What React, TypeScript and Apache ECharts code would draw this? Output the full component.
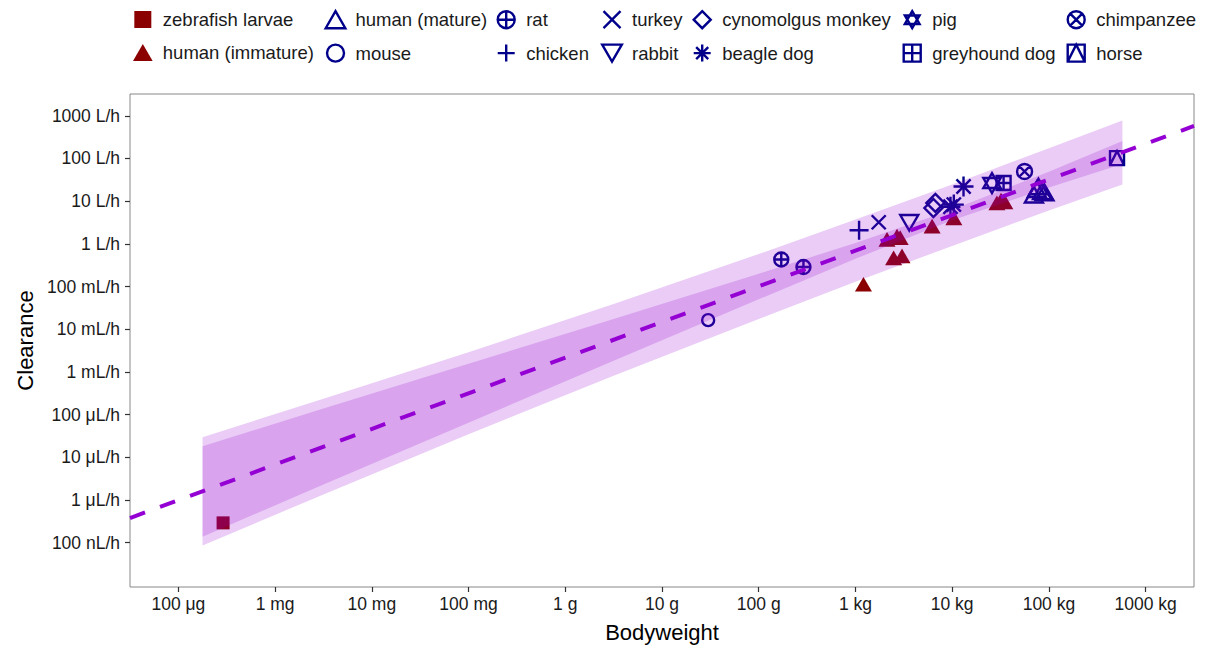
import React, { useEffect, useRef } from "react";
import * as echarts from "echarts";

// ---------- data (bodyweight in kg, clearance in L/h) ----------
const zebrafishLarvae = [[2.9e-7, 2.9e-7]];
const humanImmature = [
  [1.21, 0.113], [2.48, 0.47], [3.03, 0.52], [2.12, 1.27], [2.69, 1.51], [2.9, 1.39],
  [6.2, 2.59], [10.4, 4.06], [29, 9.1], [32, 10.5], [35, 9.6],
];
const humanMature = [[78, 22], [70, 14.2], [85, 17], [75, 19], [90, 16]];
const mouse = [[0.03, 0.0163]];
const rat = [[0.171, 0.43], [0.29, 0.286]];
const chicken = [[1.09, 2.08]];
const turkey = [[1.74, 3.2]];
const rabbit = [[3.6, 3.1]];
const cynomolgusMonkey = [[6.7, 9.1], [6.4, 6.9]];
const beagleDog = [[13.1, 22], [10.4, 8.3], [9.6, 7.4]];
const pig = [[25.8, 26.5]];
const greyhoundDog = [[34, 26.5]];
const chimpanzee = [[56, 49.6]];
const horse = [[506, 101.6]];

// fitted line and intervals, in log10 units (log10 kg, log10 L/h)
const fitLogBodyweight = [-7.5, 3.5];
const fitLogClearance = [-6.424, 2.761];
const bandLogBodyweight = [-6.75, -5.5, -4, -2.5, -1, 0, 1, 2, 2.76];
const predLower = [-7.07, -5.87, -4.46, -3.09, -1.76, -0.89, -0.05, 0.78, 1.39];
const predUpper = [-4.53, -3.63, -2.54, -1.41, -0.24, 0.57, 1.39, 2.24, 2.89];
const confLower = [-6.86, -5.64, -4.19, -2.74, -1.30, -0.35, 0.55, 1.32, 1.87];
const confUpper = [-4.74, -3.86, -2.81, -1.76, -0.70, 0.02, 0.80, 1.69, 2.41];

// ticks
const xTickLog = [-7, -6, -5, -4, -3, -2, -1, 0, 1, 2, 3];
const xTickLabels = ["100 μg", "1 mg", "10 mg", "100 mg", "1 g", "10 g", "100 g", "1 kg", "10 kg", "100 kg", "1000 kg"];
const yTickLog = [-7, -6, -5, -4, -3, -2, -1, 0, 1, 2, 3];
const yTickLabels = ["100 nL/h", "1 μL/h", "10 μL/h", "100 μL/h", "1 mL/h", "10 mL/h", "100 mL/h", "1 L/h", "10 L/h", "100 L/h", "1000 L/h"];

// ---------- styles ----------
const BLUE = "#00008B";
const RED = "#8B0000";
const VIOLET = "#9400D3";
const FONT = "'Liberation Sans', Arial, Helvetica, sans-serif";

const CIRCLE = "M10 0A10 10 0 1 1 10 20A10 10 0 1 1 10 0Z";
const SYM: Record<string, string> = {
  square: "path://M0 0H20V20H0Z",
  triUp: "path://M10 0L20 17.32H0Z",
  circle: "path://" + CIRCLE,
  circlePlus: "path://" + CIRCLE + "M10 0V20M0 10H20",
  plus: "path://M10 0V20M0 10H20",
  cross: "path://M0 0L20 20M20 0L0 20",
  triDown: "path://M0 0H20L10 17.32Z",
  diamond: "path://M10 0L20 10L10 20L0 10Z",
  asterisk: "path://M10 0V20M0 10H20M2.93 2.93L17.07 17.07M17.07 2.93L2.93 17.07",
  star: "path://M10 0L18.66 15H1.34ZM10 20L1.34 5H18.66Z",
  squarePlus: "path://M0 0H20V20H0ZM10 0V20M0 10H20",
  circleCross: "path://" + CIRCLE + "M2.93 2.93L17.07 17.07M17.07 2.93L2.93 17.07",
  squareTri: "path://M0 0H20V20H0ZM0 20L10 0L20 20",
};

const groups = [
  { name: "zebrafish larvae", data: zebrafishLarvae, symbol: SYM.square, size: 13, filled: true, color: RED },
  { name: "human (immature)", data: humanImmature, symbol: SYM.triUp, size: 17, filled: true, color: RED },
  { name: "human (mature)", data: humanMature, symbol: SYM.triUp, size: 18, filled: false, color: BLUE },
  { name: "mouse", data: mouse, symbol: SYM.circle, size: 12, filled: false, color: BLUE },
  { name: "rat", data: rat, symbol: SYM.circlePlus, size: 14, filled: false, color: BLUE },
  { name: "chicken", data: chicken, symbol: SYM.plus, size: 19, filled: false, color: BLUE },
  { name: "turkey", data: turkey, symbol: SYM.cross, size: 14, filled: false, color: BLUE },
  { name: "rabbit", data: rabbit, symbol: SYM.triDown, size: 18, filled: false, color: BLUE },
  { name: "cynomolgus monkey", data: cynomolgusMonkey, symbol: SYM.diamond, size: 18, filled: false, color: BLUE },
  { name: "beagle dog", data: beagleDog, symbol: SYM.asterisk, size: 20, filled: false, color: BLUE },
  { name: "pig", data: pig, symbol: SYM.star, size: 20, filled: false, color: BLUE },
  { name: "greyhound dog", data: greyhoundDog, symbol: SYM.squarePlus, size: 14, filled: false, color: BLUE },
  { name: "chimpanzee", data: chimpanzee, symbol: SYM.circleCross, size: 15, filled: false, color: BLUE },
  { name: "horse", data: horse, symbol: SYM.squareTri, size: 14, filled: false, color: BLUE },
];

const legendColumns = [
  ["zebrafish larvae", "human (immature)"],
  ["human (mature)", "mouse"],
  ["rat", "chicken"],
  ["turkey", "rabbit"],
  ["cynomolgus monkey", "beagle dog"],
  ["pig", "greyhound dog"],
  ["chimpanzee", "horse"],
];
const legendLefts = [133, 324.5, 496.5, 601, 692.5, 902.5, 1066.5];

function toLog(pts: number[][]) {
  return pts.map(([w, c]) => [Math.log10(w), Math.log10(c)]);
}

function bandSeries(lower: number[], upper: number[]) {
  return {
    type: "custom",
    coordinateSystem: "cartesian2d",
    silent: true,
    z: 3,
    data: [[bandLogBodyweight[0], upper[0]]],
    renderItem: (_params: any, api: any) => {
      const pts: number[][] = [];
      for (let i = 0; i < bandLogBodyweight.length; i++) pts.push(api.coord([bandLogBodyweight[i], upper[i]]));
      for (let i = bandLogBodyweight.length - 1; i >= 0; i--) pts.push(api.coord([bandLogBodyweight[i], lower[i]]));
      return { type: "polygon", shape: { points: pts }, style: { fill: "rgba(148,0,211,0.2)" } };
    },
  };
}

export default function App() {
  const ref = useRef<HTMLDivElement>(null);
  useEffect(() => {
    if (!ref.current) return;
    const chart = echarts.init(ref.current, undefined, { renderer: "svg" });

    const scatterSeries = groups.map((g) => ({
      type: "scatter",
      name: g.name,
      data: toLog(g.data),
      symbol: g.symbol,
      symbolSize: g.size,
      symbolKeepAspect: true,
      z: 2,
      itemStyle: g.filled
        ? { color: g.color, borderWidth: 0, opacity: 1 }
        : { color: "rgba(0,0,0,0)", borderColor: g.color, borderWidth: 2.4, opacity: 1 },
    }));

    const legends = legendColumns.map((names, i) => ({
      data: names,
      orient: "vertical",
      left: legendLefts[i],
      top: 10,
      padding: 0,
      itemWidth: 30,
      itemHeight: 17,
      itemGap: 14,
      selectedMode: false,
      itemStyle: { borderWidth: 2.4 },
      textStyle: { fontFamily: FONT, fontSize: 18.5, color: "#1a1a1a", lineHeight: 17 },
    }));

    const axisCommon = {
      type: "value",
      splitLine: { show: false },
      axisLine: { show: false, onZero: false },
      nameLocation: "middle",
      nameTextStyle: { fontFamily: FONT, fontSize: 22, color: "#000" },
    };

    chart.setOption({
      animation: false,
      backgroundColor: "#ffffff",
      grid: { left: 130, right: 16, top: 94, bottom: 59, show: true, borderColor: "#888888", borderWidth: 1, backgroundColor: "transparent" },
      legend: legends,
      xAxis: {
        ...axisCommon,
        min: -7.5,
        max: 3.5,
        name: "Bodyweight",
        nameGap: 34,
        axisTick: { show: true, length: 5, customValues: xTickLog, lineStyle: { color: "#333", width: 1.2 } },
        axisLabel: {
          customValues: xTickLog,
          margin: 8,
          fontFamily: FONT,
          fontSize: 17.5,
          color: "#1a1a1a",
          formatter: (v: number) => xTickLabels[xTickLog.indexOf(Math.round(v))] ?? "",
        },
      },
      yAxis: {
        ...axisCommon,
        min: -8.04,
        max: 3.51,
        name: "Clearance",
        nameGap: 94,
        axisTick: { show: true, length: 5, customValues: yTickLog, lineStyle: { color: "#333", width: 1.2 } },
        axisLabel: {
          customValues: yTickLog,
          margin: 10,
          fontFamily: FONT,
          fontSize: 17.5,
          color: "#1a1a1a",
          formatter: (v: number) => yTickLabels[yTickLog.indexOf(Math.round(v))] ?? "",
        },
      },
      series: [
        ...scatterSeries,
        bandSeries(predLower, predUpper),
        bandSeries(confLower, confUpper),
        {
          type: "line",
          silent: true,
          z: 4,
          data: fitLogBodyweight.map((x, i) => [x, fitLogClearance[i]]),
          showSymbol: false,
          symbol: "none",
          lineStyle: { color: VIOLET, width: 4, type: [16, 16] },
        },
      ],
    });
    return () => chart.dispose();
  }, []);
  return <div ref={ref} style={{ position: "fixed", left: 0, top: 0, width: 1210, height: 648 }} />;
}
